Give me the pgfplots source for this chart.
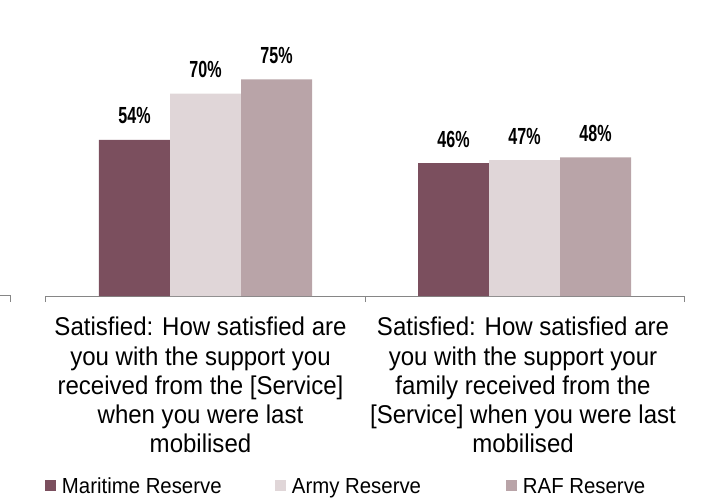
\documentclass[border=0pt]{standalone}
\usepackage{fontspec}
\setmainfont{Liberation Sans}
\newfontfamily\tallfont[FakeStretch=0.935]{Liberation Sans}
\newfontfamily\narrowfont[FakeStretch=0.69]{Liberation Sans}
\usepackage{pgfplots}
\pgfplotsset{compat=1.18}
\definecolor{maritime}{RGB}{123,79,94}
\definecolor{army}{RGB}{224,214,216}
\definecolor{raf}{RGB}{185,164,168}
\definecolor{axisgray}{RGB}{134,134,134}

\begin{document}
\begin{tikzpicture}[x=1pt,y=1pt]
\useasboundingbox (0,0) rectangle (720,498);
% piece of the neighbouring axis at the left edge
\draw[axisgray, line width=1pt] (0,202) -- (10.5,202) -- (10.5,196);
\begin{axis}[
  at={(46pt,202pt)}, anchor=south west,
  scale only axis, width=638pt, height=231.2pt,
  xmin=-0.5, xmax=1.5, ymin=0, ymax=80,
  ybar=0pt, bar width=71pt,
  axis x line=bottom, axis y line=none,
  x axis line style={-, axisgray, line width=1pt},
  xtick={-0.5,0.5,1.5}, x tick label as interval,
  xticklabels={
    {\begin{tabular}{@{}c@{}}Satisfied: How satisfied are\\you with the support you\\received from the {[Service]}\\when you were last\\mobilised\end{tabular}\kern10pt},
    {\begin{tabular}{@{}c@{}}Satisfied: How satisfied are\\you with the support your\\family received from the\\{[Service]} when you were last\\mobilised\end{tabular}\kern3pt}},
  tick align=outside, major tick length=6pt,
  xtick style={axisgray, line width=1pt},
  x tick label style={font=\tallfont\fontsize{25.7}{29.2}\selectfont, text=black, yshift=-10pt},
  /pgf/number format/assume math mode=true,
  nodes near coords={\pgfmathprintnumber{\pgfplotspointmeta}\%},
  every node near coord/.append style={font=\narrowfont\bfseries\fontsize{23.3}{25}\selectfont,
    anchor=center, yshift=24pt, text=black},
  legend columns=3,
  legend image code/.code={\fill[#1] (0pt,-5.5pt) rectangle (11pt,5.5pt);},
  legend style={draw=none, fill=none, inner sep=0pt, outer sep=0pt,
    at={(-0.0016,-0.8218)}, anchor=west,
    font=\tallfont\fontsize{21.8}{24}\selectfont,
    column sep=6pt,
    nodes={inner xsep=0pt, inner ysep=0pt, text height=15.6pt, text depth=0pt}},
  legend cell align=left,
  clip=false,
]
\addplot[fill=maritime, draw=none] coordinates {(0,54) (1,46)};
\addlegendentry{\makebox[207pt][l]{Maritime Reserve}}
\addplot[fill=army, draw=none] coordinates {(0,70) (1,47)};
\addlegendentry{\makebox[208pt][l]{Army Reserve}}
\addplot[fill=raf, draw=none] coordinates {(0,75) (1,48)};
\addlegendentry{RAF Reserve}
\end{axis}
\end{tikzpicture}
\end{document}
